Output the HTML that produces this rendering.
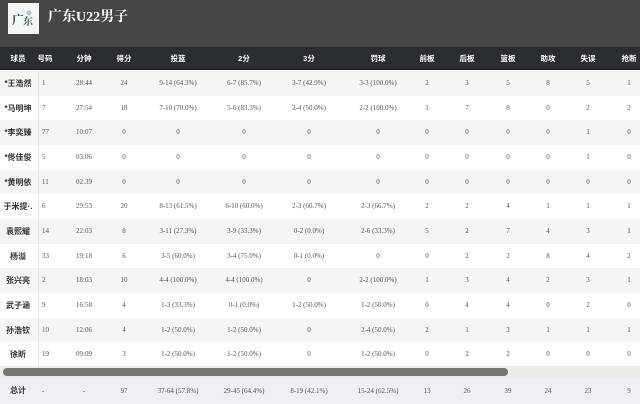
<!DOCTYPE html>
<html><head><meta charset="utf-8">
<style>
*{margin:0;padding:0;box-sizing:border-box}
body{width:640px;height:404px;overflow:hidden;background:#fff;position:relative;font-family:"Liberation Serif","Noto Serif CJK SC",serif}
.top{position:absolute;left:0;top:0;width:640px;height:47px;background:#464646}
.logo{position:absolute;left:8px;top:3px;width:31px;height:31px;background:#f4f6f5}
.title{position:absolute;left:48px;top:8px;font-size:14px;font-weight:bold;color:#fff;font-family:"Liberation Serif","Noto Serif CJK SC",serif;line-height:20px}
.hdr{position:absolute;left:0;top:47px;width:640px;height:23px;background:#2b2e31;border-bottom:1px solid #1d1f21}
.row{position:absolute;left:0;width:640px;height:25px}
.g{background:#f5f5f5}
.w{background:#fff}
.row span,.hdr span,.tot span{position:absolute;top:0;width:70px;text-align:center;white-space:nowrap}
.hdr span{line-height:23px;font-size:7.5px;color:#fff;font-family:"Liberation Sans","Noto Sans CJK SC",sans-serif;font-weight:bold}
.row span{line-height:25px;font-size:7px;color:#555}
.tot span{line-height:26px;font-size:7px;color:#555}
.row span.c0,.tot span.c0{font-size:8px;color:#333;font-family:"Liberation Sans","Noto Sans CJK SC",sans-serif;font-weight:bold}
.c0{left:-17px}
.row span.c1,.tot span.c1{left:42px;width:30px;text-align:left}
.hdr span.c1{left:10px}
.c2{left:49px}.c3{left:89px}.c4{left:143px}.c5{left:209px}.c6{left:274px}.c7{left:343px}
.c8{left:392px}.c9{left:432px}.c10{left:473px}.c11{left:513px}.c12{left:553px}.c13{left:594px}
.vline{position:absolute;left:38px;top:71px;width:1px;height:296px;background:#e6e6e6}
.track{position:absolute;left:0;top:366px;width:640px;height:12px;background:#ececec}
.thumb{position:absolute;left:3px;top:368px;width:505px;height:8px;border-radius:4px;background:#767676}
.tot{position:absolute;left:0;top:378px;width:640px;height:26px;background:#eef0f4}
</style></head><body>
<div class="top"></div>
<div class="logo">
<svg width="31" height="31" viewBox="0 0 31 31"><text x="4" y="21" font-size="12" font-family="Noto Serif CJK SC,serif" fill="#2a5a6a" font-weight="bold">广</text><text x="15" y="22" font-size="10" font-family="Noto Serif CJK SC,serif" fill="#3b6b5e" font-weight="bold">东</text><circle cx="21" cy="10" r="2.5" fill="#7aa" opacity=".6"/></svg>
</div>
<div class="title">广东U22男子</div>
<div class="hdr">
<span class="c0">球员</span><span class="c1">号码</span><span class="c2">分钟</span><span class="c3">得分</span><span class="c4">投篮</span><span class="c5">2分</span><span class="c6">3分</span><span class="c7">罚球</span><span class="c8">前板</span><span class="c9">后板</span><span class="c10">篮板</span><span class="c11">助攻</span><span class="c12">失误</span><span class="c13">抢断</span>
</div>

<div class="row g" style="top:71px"><span class="c0">*王浩然</span><span class="c1">1</span><span class="c2">28:44</span><span class="c3">24</span><span class="c4">9-14 (64.3%)</span><span class="c5">6-7 (85.7%)</span><span class="c6">3-7 (42.9%)</span><span class="c7">3-3 (100.0%)</span><span class="c8">2</span><span class="c9">3</span><span class="c10">5</span><span class="c11">8</span><span class="c12">5</span><span class="c13">1</span></div>
<div class="row w" style="top:96px"><span class="c0">*马明坤</span><span class="c1">7</span><span class="c2">27:54</span><span class="c3">18</span><span class="c4">7-10 (70.0%)</span><span class="c5">5-6 (83.3%)</span><span class="c6">2-4 (50.0%)</span><span class="c7">2-2 (100.0%)</span><span class="c8">1</span><span class="c9">7</span><span class="c10">8</span><span class="c11">0</span><span class="c12">2</span><span class="c13">2</span></div>
<div class="row g" style="top:120px"><span class="c0">*李奕臻</span><span class="c1">77</span><span class="c2">10:07</span><span class="c3">0</span><span class="c4">0</span><span class="c5">0</span><span class="c6">0</span><span class="c7">0</span><span class="c8">0</span><span class="c9">0</span><span class="c10">0</span><span class="c11">0</span><span class="c12">1</span><span class="c13">0</span></div>
<div class="row w" style="top:145px"><span class="c0">*佟佳俊</span><span class="c1">5</span><span class="c2">03:06</span><span class="c3">0</span><span class="c4">0</span><span class="c5">0</span><span class="c6">0</span><span class="c7">0</span><span class="c8">0</span><span class="c9">0</span><span class="c10">0</span><span class="c11">0</span><span class="c12">1</span><span class="c13">0</span></div>
<div class="row g" style="top:170px"><span class="c0">*黄明依</span><span class="c1">11</span><span class="c2">02:39</span><span class="c3">0</span><span class="c4">0</span><span class="c5">0</span><span class="c6">0</span><span class="c7">0</span><span class="c8">0</span><span class="c9">0</span><span class="c10">0</span><span class="c11">0</span><span class="c12">0</span><span class="c13">0</span></div>
<div class="row w" style="top:194px"><span class="c0">于米提·.</span><span class="c1">6</span><span class="c2">29:53</span><span class="c3">20</span><span class="c4">8-13 (61.5%)</span><span class="c5">6-10 (60.0%)</span><span class="c6">2-3 (66.7%)</span><span class="c7">2-3 (66.7%)</span><span class="c8">2</span><span class="c9">2</span><span class="c10">4</span><span class="c11">1</span><span class="c12">1</span><span class="c13">1</span></div>
<div class="row g" style="top:219px"><span class="c0">袁熙耀</span><span class="c1">14</span><span class="c2">22:03</span><span class="c3">8</span><span class="c4">3-11 (27.3%)</span><span class="c5">3-9 (33.3%)</span><span class="c6">0-2 (0.0%)</span><span class="c7">2-6 (33.3%)</span><span class="c8">5</span><span class="c9">2</span><span class="c10">7</span><span class="c11">4</span><span class="c12">3</span><span class="c13">1</span></div>
<div class="row w" style="top:244px"><span class="c0">杨溢</span><span class="c1">33</span><span class="c2">19:18</span><span class="c3">6</span><span class="c4">3-5 (60.0%)</span><span class="c5">3-4 (75.0%)</span><span class="c6">0-1 (0.0%)</span><span class="c7">0</span><span class="c8">0</span><span class="c9">2</span><span class="c10">2</span><span class="c11">8</span><span class="c12">4</span><span class="c13">2</span></div>
<div class="row g" style="top:268px"><span class="c0">张兴亮</span><span class="c1">2</span><span class="c2">18:03</span><span class="c3">10</span><span class="c4">4-4 (100.0%)</span><span class="c5">4-4 (100.0%)</span><span class="c6">0</span><span class="c7">2-2 (100.0%)</span><span class="c8">1</span><span class="c9">3</span><span class="c10">4</span><span class="c11">2</span><span class="c12">3</span><span class="c13">1</span></div>
<div class="row w" style="top:293px"><span class="c0">武子涵</span><span class="c1">9</span><span class="c2">16:58</span><span class="c3">4</span><span class="c4">1-3 (33.3%)</span><span class="c5">0-1 (0.0%)</span><span class="c6">1-2 (50.0%)</span><span class="c7">1-2 (50.0%)</span><span class="c8">0</span><span class="c9">4</span><span class="c10">4</span><span class="c11">0</span><span class="c12">2</span><span class="c13">0</span></div>
<div class="row g" style="top:318px"><span class="c0">孙浩钦</span><span class="c1">10</span><span class="c2">12:06</span><span class="c3">4</span><span class="c4">1-2 (50.0%)</span><span class="c5">1-2 (50.0%)</span><span class="c6">0</span><span class="c7">2-4 (50.0%)</span><span class="c8">2</span><span class="c9">1</span><span class="c10">3</span><span class="c11">1</span><span class="c12">1</span><span class="c13">1</span></div>
<div class="row w" style="top:342px"><span class="c0">徐昕</span><span class="c1">19</span><span class="c2">09:09</span><span class="c3">3</span><span class="c4">1-2 (50.0%)</span><span class="c5">1-2 (50.0%)</span><span class="c6">0</span><span class="c7">1-2 (50.0%)</span><span class="c8">0</span><span class="c9">2</span><span class="c10">2</span><span class="c11">0</span><span class="c12">0</span><span class="c13">0</span></div>

<div class="vline"></div>
<div class="track"></div>
<div class="thumb"></div>
<div class="tot">
<span class="c0">总计</span><span class="c1">-</span><span class="c2">-</span><span class="c3">97</span><span class="c4">37-64 (57.8%)</span><span class="c5">29-45 (64.4%)</span><span class="c6">8-19 (42.1%)</span><span class="c7">15-24 (62.5%)</span><span class="c8">13</span><span class="c9">26</span><span class="c10">39</span><span class="c11">24</span><span class="c12">23</span><span class="c13">9</span>
</div>
</body></html>
